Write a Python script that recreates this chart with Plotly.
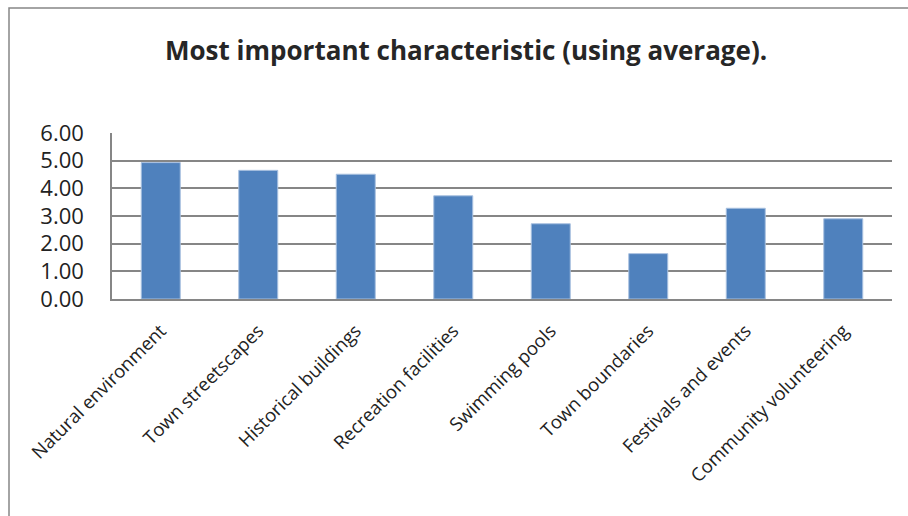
import plotly.graph_objects as go

categories = ["Natural environment", "Town streetscapes", "Historical buildings",
              "Recreation facilities", "Swimming pools", "Town boundaries",
              "Festivals and events", "Community volunteering"]
values = [4.93, 4.65, 4.51, 3.73, 2.72, 1.64, 3.28, 2.90]
y_ticks = [0, 1, 2, 3, 4, 5, 6]
title_text = "Most important characteristic (using average)."

W, H = 908, 516
L, R, T, B = 112, 16, 133, 217
pw, ph = W - L - R, H - T - B

def px(x):
    return (x - L) / pw

def py(y):
    return (H - B - y) / ph

fig = go.Figure(go.Bar(
    x=categories, y=values,
    marker=dict(color="#4F81BD", line=dict(color="#A9C1E0", width=1)),
    width=0.4,
))

fig.update_layout(
    width=W, height=H,
    margin=dict(l=L, r=R, t=T, b=B, pad=0),
    paper_bgcolor="white", plot_bgcolor="white",
    showlegend=False,
    font=dict(family="Open Sans", color="#222222"),
    xaxis=dict(
        tickangle=-45, tickfont=dict(size=18.5, family="Open Sans", color="#222"),
        showgrid=False, showline=True, linecolor="#868686", linewidth=1.5,
        ticks="", range=[-0.5, 7.5], ticklabelstandoff=12,
    ),
    yaxis=dict(
        range=[0, 6], tickvals=y_ticks, tickformat=".2f",
        tickfont=dict(size=22, family="Open Sans", color="#222"),
        showgrid=True, gridcolor="#868686", gridwidth=1.5,
        showline=True, linecolor="#868686", linewidth=1.5,
        ticks="", ticklabelstandoff=22, zeroline=False,
    ),
    annotations=[dict(
        text="<b>" + title_text + "</b>", xref="paper", yref="paper",
        x=px(466), y=py(50), xanchor="center", yanchor="middle",
        showarrow=False, font=dict(size=26, family="Open Sans", color="#262626"),
    )],
    shapes=[dict(
        type="rect", xref="paper", yref="paper",
        x0=px(9), x1=px(915), y0=py(522), y1=py(8),
        line=dict(color="#868686", width=1.5), fillcolor="rgba(0,0,0,0)", layer="below",
    )],
)

fig.write_html("out.html")
